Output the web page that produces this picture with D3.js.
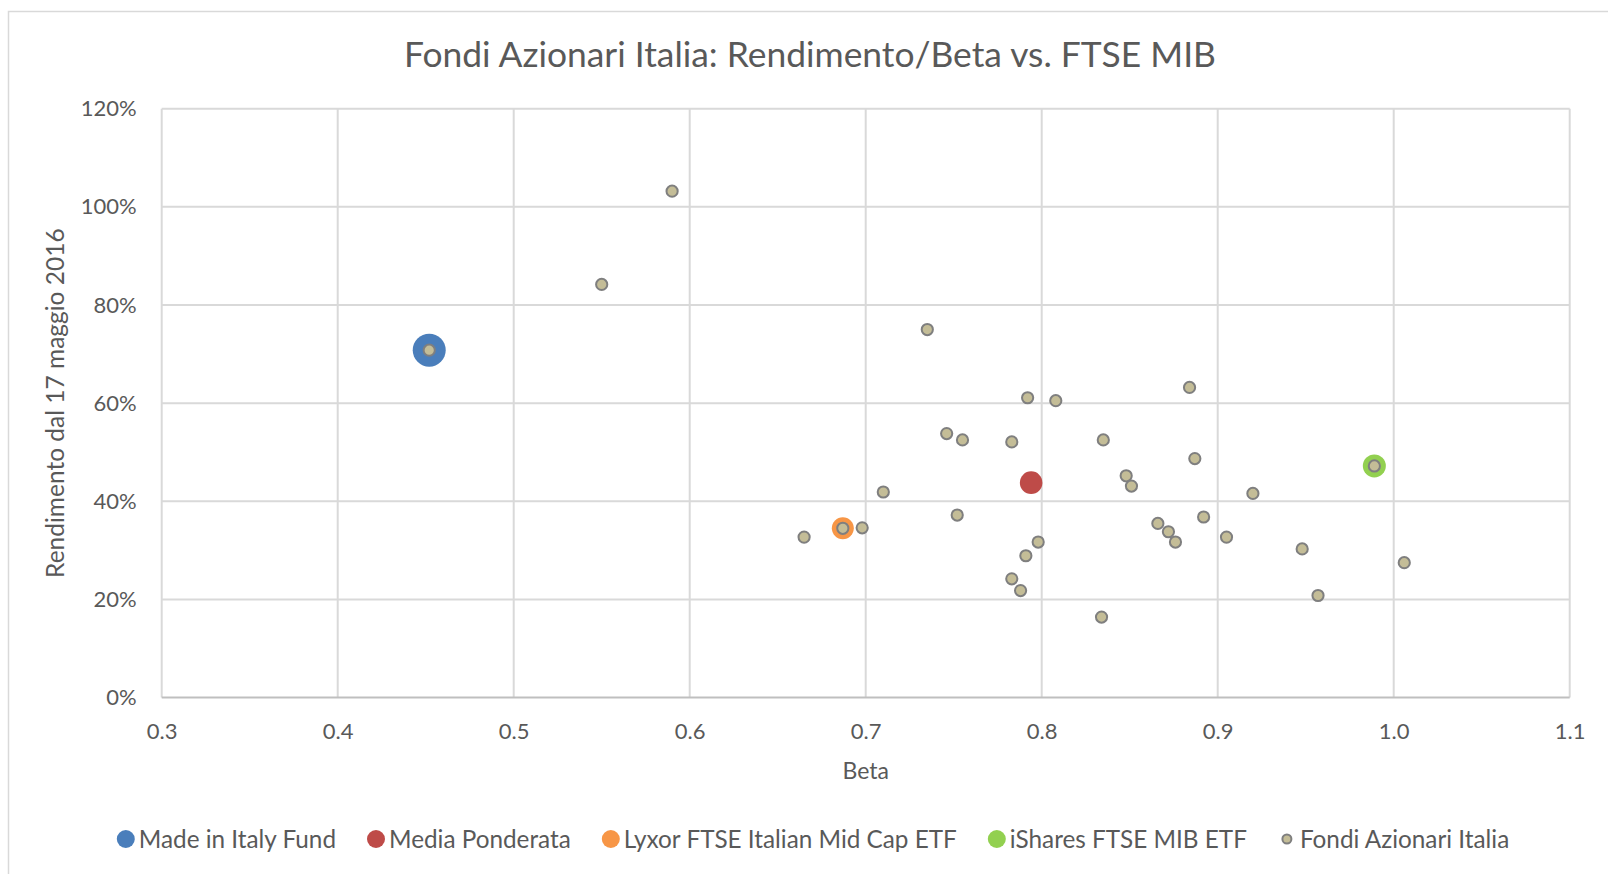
<!DOCTYPE html>
<html>
<head>
<meta charset="utf-8">
<script src="https://cdn.jsdelivr.net/npm/d3@7"></script>
<style>
  body { margin: 0; background: #fff; }
  text { font-family: Lato, "Open Sans", sans-serif; fill: #595959; }
</style>
</head>
<body>
<div id="chart"></div>
<script>
const dim = { width: 1608, height: 874 }
const margin = { top: 108.7, right: 38.3, bottom: 176.4, left: 161.7 }

// data
const fondiBeta = [0.590, 0.550, 0.452, 0.735, 0.792, 0.808, 0.884, 0.746, 0.755, 0.783,
  0.835, 0.887, 0.848, 0.851, 0.920, 0.710, 0.989, 0.752, 0.892, 0.866,
  0.872, 0.876, 0.905, 0.798, 0.791, 0.665, 0.687, 0.698, 0.948, 1.006,
  0.783, 0.788, 0.957, 0.834]
const fondiRend = [1.032, 0.842, 0.708, 0.750, 0.611, 0.605, 0.632, 0.538, 0.525, 0.521,
  0.525, 0.487, 0.452, 0.431, 0.416, 0.419, 0.472, 0.372, 0.368, 0.355,
  0.338, 0.317, 0.327, 0.317, 0.289, 0.327, 0.345, 0.346, 0.303, 0.275,
  0.242, 0.218, 0.208, 0.164]

const highlightNames = ['Made in Italy Fund', 'Media Ponderata', 'Lyxor FTSE Italian Mid Cap ETF', 'iShares FTSE MIB ETF']
const highlightBeta = [0.452, 0.794, 0.687, 0.989]
const highlightRend = [0.708, 0.438, 0.345, 0.472]
const highlightColors = ['#4a7ebb', '#be4b48', '#f79646', '#92d050']
const highlightRadius = [16.5, 11.3, 11, 11.5]

const xTicks = [0.3, 0.4, 0.5, 0.6, 0.7, 0.8, 0.9, 1.0, 1.1]
const yTicks = [0, 0.2, 0.4, 0.6, 0.8, 1.0, 1.2]

const fondiName = 'Fondi Azionari Italia'
const fondiFill = '#c4bd97'
const fondiStroke = '#7f7f7f'
const gridColor = '#d9d9d9'

const svg = d3.select('#chart')
  .append('svg')
    .attr('width', dim.width)
    .attr('height', dim.height)

// chart frame
svg.append('rect')
  .attr('x', 8.5).attr('y', 11.5)
  .attr('width', dim.width).attr('height', dim.height)
  .attr('fill', 'none')
  .attr('stroke', gridColor)
  .attr('stroke-width', 1.5)

const xScale = d3.scaleLinear()
  .domain([0.3, 1.1])
  .range([margin.left, dim.width - margin.right])

const yScale = d3.scaleLinear()
  .domain([0, 1.2])
  .range([dim.height - margin.bottom, margin.top])

// grid
const grid = svg.append('g')
grid.selectAll('line.v')
  .data(xTicks)
  .join('line')
    .attr('class', 'v')
    .attr('x1', d => xScale(d)).attr('x2', d => xScale(d))
    .attr('y1', yScale(1.2)).attr('y2', yScale(0))
    .attr('stroke', gridColor).attr('stroke-width', 2)
grid.selectAll('line.h')
  .data(yTicks)
  .join('line')
    .attr('class', 'h')
    .attr('x1', xScale(0.3)).attr('x2', xScale(1.1))
    .attr('y1', d => yScale(d)).attr('y2', d => yScale(d))
    .attr('stroke', d => d === 0 ? '#bfbfbf' : gridColor).attr('stroke-width', 2)

// axes
const xAxis = svg.append('g')
  .attr('transform', `translate(0,${yScale(0)})`)
  .call(d3.axisBottom(xScale).tickValues(xTicks).tickFormat(d3.format('.1f')).tickSize(0).tickPadding(26))
xAxis.select('.domain').remove()
xAxis.selectAll('text').style('font-size', '22px').attr('fill', '#595959')

const yAxis = svg.append('g')
  .attr('transform', `translate(${margin.left},0)`)
  .call(d3.axisLeft(yScale).tickValues(yTicks).tickFormat(d3.format('.0%')).tickSize(0).tickPadding(25))
yAxis.select('.domain').remove()
yAxis.selectAll('text').style('font-size', '22px').attr('fill', '#595959')

// titles
svg.append('text')
  .attr('x', 810).attr('y', 67)
  .attr('text-anchor', 'middle')
  .style('font-size', '35.4px')
  .text('Fondi Azionari Italia: Rendimento/Beta vs. FTSE MIB')

svg.append('text')
  .attr('x', xScale(0.7)).attr('y', 779)
  .attr('text-anchor', 'middle')
  .style('font-size', '23px')
  .text('Beta')

svg.append('text')
  .attr('transform', `translate(64,${(yScale(0) + yScale(1.2)) / 2}) rotate(-90)`)
  .attr('text-anchor', 'middle')
  .style('font-size', '24.5px')
  .text('Rendimento dal 17 maggio 2016')

// highlighted series (drawn below the fund cloud)
svg.append('g')
  .selectAll('circle')
  .data(highlightNames.map((n, i) => ({ name: n, beta: highlightBeta[i], rend: highlightRend[i], color: highlightColors[i], r: highlightRadius[i] })))
  .join('circle')
    .attr('cx', d => xScale(d.beta))
    .attr('cy', d => yScale(d.rend))
    .attr('r', d => d.r)
    .attr('fill', d => d.color)

// all funds
svg.append('g')
  .selectAll('circle')
  .data(fondiBeta.map((b, i) => ({ beta: b, rend: fondiRend[i] })))
  .join('circle')
    .attr('cx', d => xScale(d.beta))
    .attr('cy', d => yScale(d.rend))
    .attr('r', 5.6)
    .attr('fill', fondiFill)
    .attr('stroke', fondiStroke)
    .attr('stroke-width', 2)

// legend
const legendItems = highlightNames.map((n, i) => ({ name: n, color: highlightColors[i], r: 9, fondi: false }))
legendItems.push({ name: fondiName, color: fondiFill, r: 4.5, fondi: true })

const legend = svg.append('g')
let lx = 0
legendItems.forEach(item => {
  const g = legend.append('g').attr('transform', `translate(${lx},0)`)
  g.append('circle')
    .attr('cx', 9).attr('cy', 0)
    .attr('r', item.r)
    .attr('fill', item.color)
    .attr('stroke', item.fondi ? fondiStroke : 'none')
    .attr('stroke-width', 2)
  const t = g.append('text')
    .attr('x', 22).attr('y', 0)
    .attr('dy', '0.35em')
    .style('font-size', '24.3px')
    .text(item.name)
  lx += 22 + t.node().getComputedTextLength() + 31
})
const legendWidth = lx - 31
legend.attr('transform', `translate(${813 - legendWidth / 2},839)`)
</script>
</body>
</html>
